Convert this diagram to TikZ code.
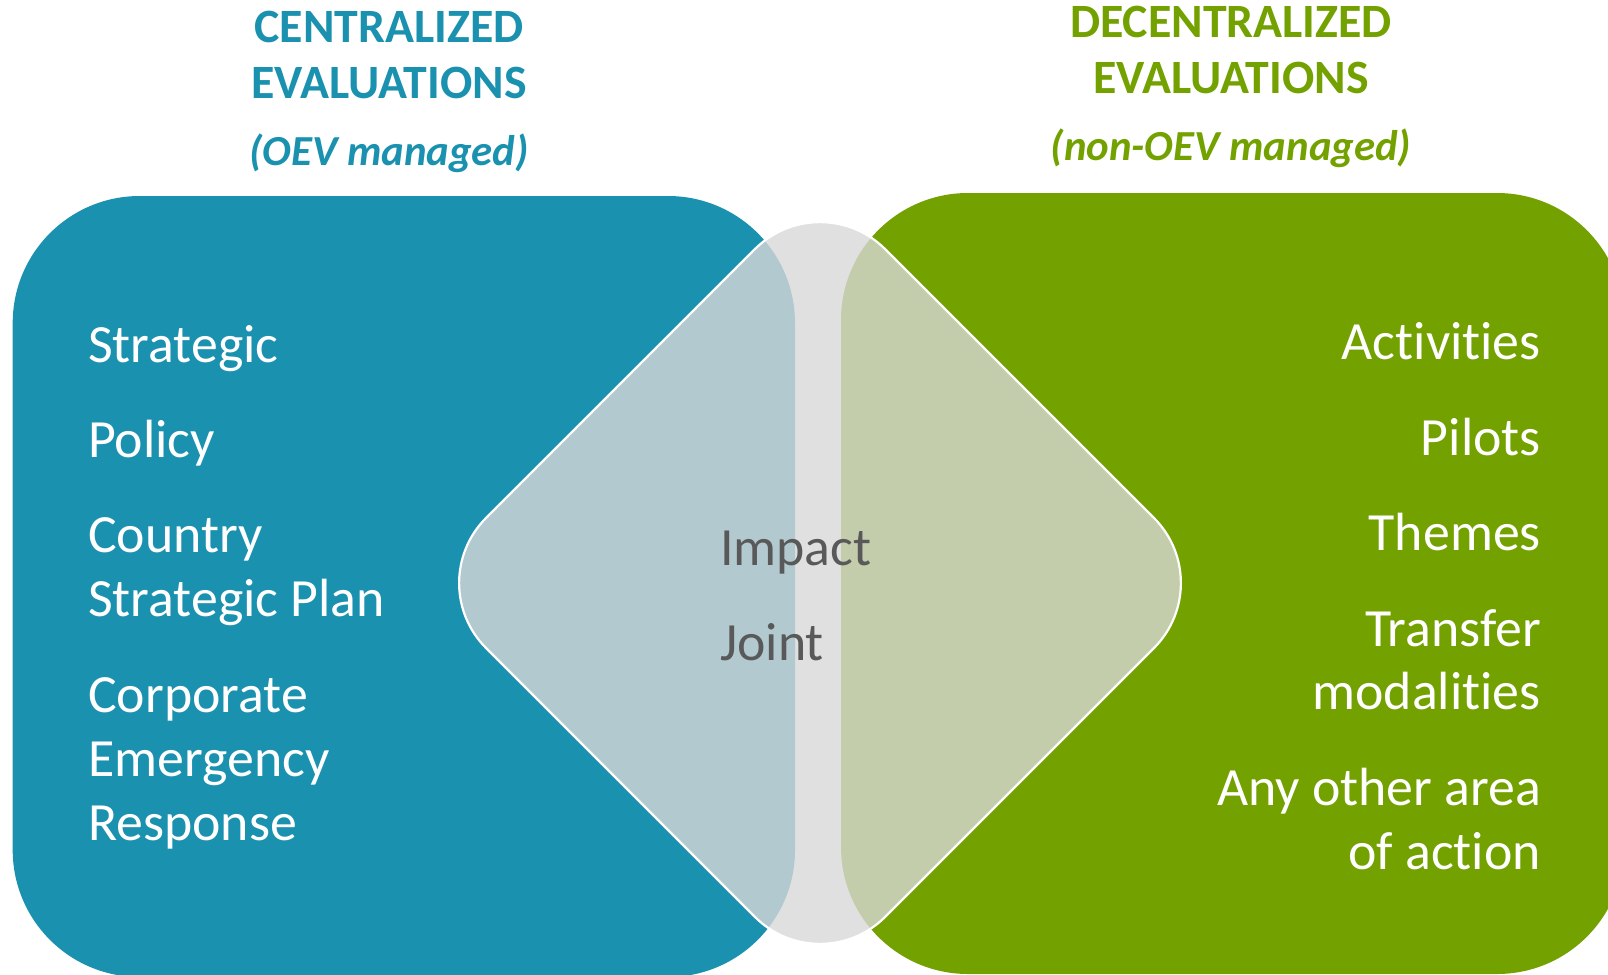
\documentclass[tikz,border=0pt]{standalone}
\usepackage{fontspec}
\setmainfont{Carlito}[Ligatures={NoCommon,NoRare,NoDiscretionary},Contextuals=NoAlternate,RawFeature={-liga;-clig;-calt;-dlig}]
\definecolor{cblue}{RGB}{27,145,176}
\definecolor{cgreen}{RGB}{114,161,0}
\definecolor{dgray}{RGB}{216,216,216}
\definecolor{tgray}{RGB}{89,89,89}
\begin{document}
\begin{tikzpicture}[x=1bp,y=-1bp,
  itembase/.style={font=\fontsize{54}{64}\selectfont, inner sep=0pt},
  litem/.style={itembase, text=white, anchor=base west},
  ritem/.style={itembase, text=white, anchor=base east},
  citem/.style={itembase, text=tgray, anchor=base west},
  ttl/.style={font=\fontsize{48}{56}\selectfont\bfseries, inner sep=0pt, anchor=base},
  subttl/.style={font=\fontsize{43}{50}\selectfont\bfseries\itshape, inner sep=0pt, anchor=base},
  panel/.style={rounded corners=127bp},
  overlay/.style={fill=dgray, fill opacity=0.8, draw=white, line width=2.2bp, rounded corners=92bp, line join=round}
]
\useasboundingbox (0,0) rectangle (1608,974);
\clip (0,0) rectangle (1608,974);
% panels
\fill[panel, cblue] (12.7,196) rectangle (795,977);
\fill[panel, cgreen] (841,193) rectangle (1624,974);
% central rounded diamond
\path[overlay] (820,184) -- (1219,583) -- (820,982) -- (421,583) -- cycle;
% titles
\node[ttl, text=cblue] (ct1) at (389,42) {CENTRALIZED};
\node[ttl, text=cblue] (ct2) at (389,98) {EVALUATIONS};
\node[subttl, text=cblue] (ct3) at (389,165) {(OEV managed)};
\node[ttl, text=cgreen] (dt1) at (1231,37) {DECENTRALIZED};
\node[ttl, text=cgreen] (dt2) at (1231,93) {EVALUATIONS};
\node[subttl, text=cgreen] (dt3) at (1231,160) {(non-OEV managed)};
% left list
\node[litem] (strategic) at (88,362) {Strategic};
\node[litem] (policy) at (88,457) {Policy};
\node[litem] (country) at (88,552) {Country};
\node[litem] (csp) at (88,616) {Strategic Plan};
\node[litem] (corporate) at (88,712) {Corporate};
\node[litem] (emergency) at (88,776) {Emergency};
\node[litem] (response) at (88,840) {Response};
% centre
\node[citem] (impact) at (720,565) {Impact};
\node[citem] (joint) at (720,660) {Joint};
% right list
\node[ritem] (activities) at (1541,359) {Activities};
\node[ritem] (pilots) at (1541,455) {Pilots};
\node[ritem] (themes) at (1541,550) {Themes};
\node[ritem] (transfer) at (1541,646) {Transfer};
\node[ritem] (modalities) at (1541,709) {modalities};
\node[ritem] (anyother) at (1541,805) {Any other area};
\node[ritem] (ofaction) at (1541,869) {of action};
\end{tikzpicture}
\end{document}
